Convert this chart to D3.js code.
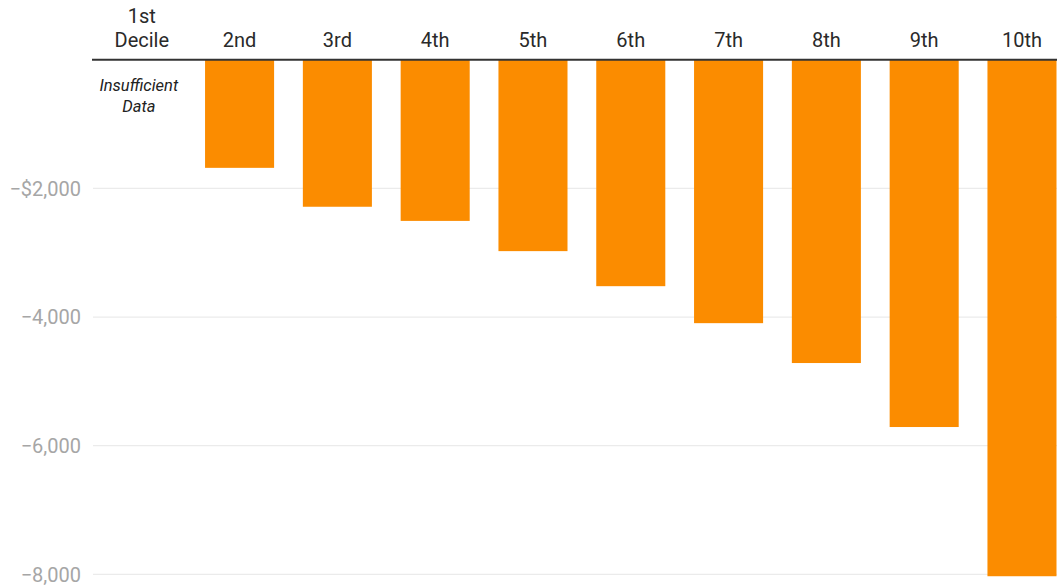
<!DOCTYPE html>
<html><head><meta charset="utf-8">
<script src="https://cdn.jsdelivr.net/npm/d3@7"></script>
<style>
html,body{margin:0;padding:0;background:#fff;}
svg{display:block;font-family:Roboto,"Noto Sans",sans-serif;}
</style></head>
<body><svg id="chart" width="1057" height="588"></svg>
<script>
const categories = ["1st Decile","2nd","3rd","4th","5th","6th","7th","8th","9th","10th"];
const values = [null,-1680,-2285,-2505,-2975,-3520,-4095,-4715,-5710,-8030];
const yTicks = [-2000,-4000,-6000,-8000];
const tickLabels = ["\u2212$2,000","\u22124,000","\u22126,000","\u22128,000"];
const noDataLabel = ["Insufficient","Data"];

const svg = d3.select("#chart");
const W = 1057;
const x = d3.scaleBand().domain(categories).range([107.25, 1056.5]).paddingInner(0.294).paddingOuter(0);
const y = d3.scaleLinear().domain([0,-8000]).range([59.8, 574.3]);

// gridlines
svg.append("g").selectAll("line").data(yTicks).join("line")
  .attr("x1",93).attr("x2",W).attr("y1",d=>y(d)).attr("y2",d=>y(d))
  .attr("stroke","#ebebeb").attr("stroke-width",1.2);

// y tick labels
svg.append("g").selectAll("text").data(yTicks).join("text")
  .attr("x",81).attr("y",d=>y(d)).attr("dy","0.36em")
  .attr("text-anchor","end").attr("fill","#a6a6a6").attr("font-size",20)
  .text((d,i)=>tickLabels[i]);

// bars
const data = categories.map((c,i)=>({c, v: values[i]}));
svg.append("g").selectAll("rect").data(data.filter(d=>d.v!==null)).join("rect")
  .attr("x",d=>x(d.c)).attr("width",x.bandwidth())
  .attr("y",y(0)).attr("height",d=>y(d.v)-y(0))
  .attr("fill","#fb8c00");

// axis line
svg.append("line").attr("x1",92).attr("x2",W).attr("y1",y(0)).attr("y2",y(0))
  .attr("stroke","#333").attr("stroke-width",2);

// category labels
const lab = svg.append("g");
data.forEach(d=>{
  const cx = x(d.c)+x.bandwidth()/2;
  const parts = d.c.split(" ").length>1 ? ["1st","Decile"] : [d.c];
  const t = lab.append("text").attr("text-anchor","middle").attr("fill","#2a2a2a").attr("font-size",20);
  parts.forEach((p,j)=>{
    t.append("tspan").attr("x",cx).attr("y",47 - (parts.length-1-j)*24).text(p);
  });
});

// insufficient data note
const first = categories[0];
const nx = x(first)+x.bandwidth()/2 - 3;
const nt = svg.append("text").attr("text-anchor","middle").attr("fill","#222")
  .attr("font-size",16.5).attr("font-style","italic");
noDataLabel.forEach((p,j)=>nt.append("tspan").attr("x",nx).attr("y",91+j*21).text(p));
</script></body></html>
